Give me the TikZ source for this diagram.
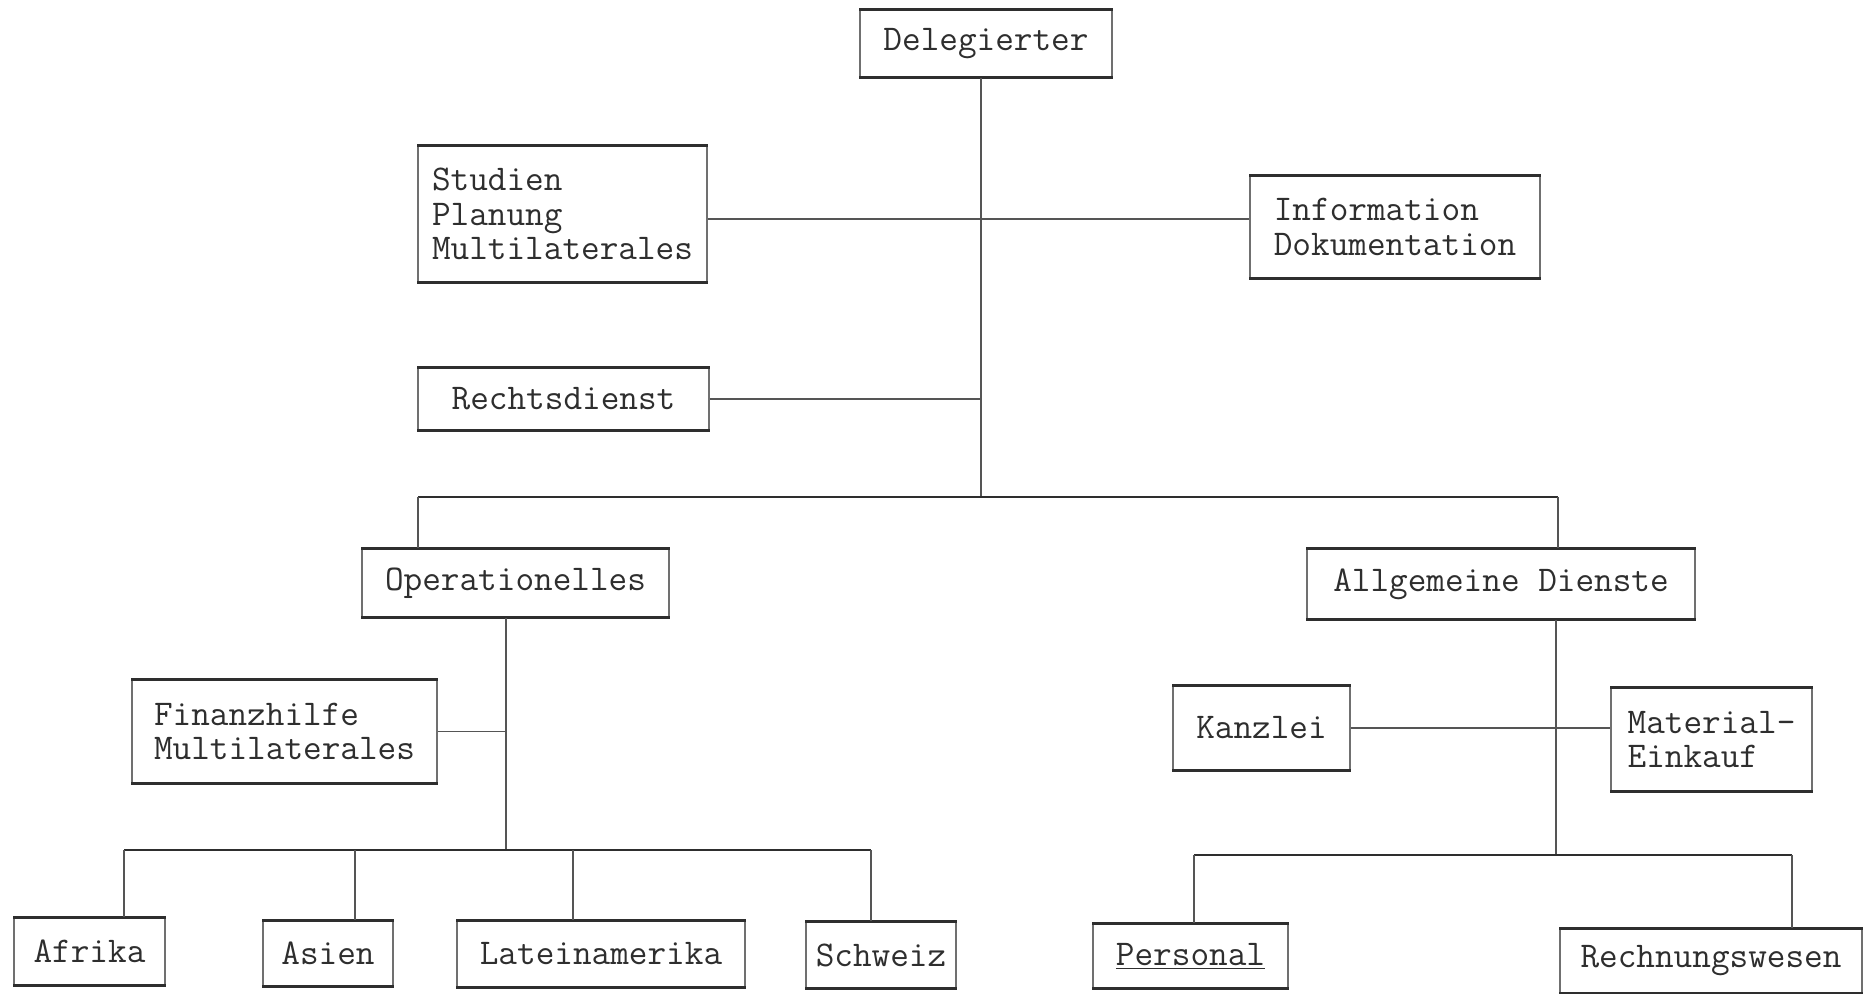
\documentclass[tikz,border=0pt]{standalone}
\definecolor{ink}{HTML}{2E2E2E}
\definecolor{boxside}{HTML}{707070}
\definecolor{linec}{HTML}{555555}
\newcommand\twfont{\ttfamily\fontsize{20.6}{19.5}\selectfont}
\begin{document}
\begin{tikzpicture}[x=0.02cm,y=-0.02cm,
  box/.style 2 args={draw=boxside, line width=0.6pt, minimum width=#1*0.02cm, minimum height=#2*0.02cm, inner sep=0pt, align=left, font=\twfont, text=ink},
  heavy/.style={draw=ink, line width=1.6pt},
  conn/.style={draw=linec, line width=0.8pt},
  hbar/.style={draw=ink, line width=1.4pt}]
\useasboundingbox (0,0) rectangle (1863,994);
\fill[white] (0,0) rectangle (1863,994);

\node[box={252}{67}] (del) at (986,43.5) {Delegierter};
\node[box={289}{136}] (stu) at (562.5,214) {Studien\\Planung\\Multilaterales};
\node[box={290}{102}] (info) at (1395,227) {Information\\Dokumentation};
\node[box={291}{62}] (recht) at (563.5,399) {Rechtsdienst};
\node[box={307}{68}] (oper) at (515.5,583) {Operationelles};
\node[box={388}{70}] (allg) at (1501,584) {Allgemeine Dienste};
\node[box={305}{103}] (fin) at (284.5,731.5) {Finanzhilfe\\Multilaterales};
\node[box={177}{84}] (kanz) at (1261.5,728) {Kanzlei};
\node[box={201}{103}] (mat) at (1711.5,739.5) {Material-\\Einkauf};
\node[box={151}{67}] (afr) at (89.5,951.5) {Afrika};
\node[box={130}{65}] (asi) at (328,953.5) {Asien};
\node[box={288}{66}] (lat) at (601,954) {Lateinamerika};
\node[box={150}{66}] (sch) at (881,955) {Schweiz};
\node[box={195}{64}] (pers) at (1190.5,956) {\underline{Personal}};
\node[box={302}{64}] (rech) at (1711,961) {Rechnungswesen};

\foreach \n in {del,stu,info,recht,oper,allg,fin,kanz,mat,afr,asi,lat,sch,pers,rech}{
  \draw[heavy] (\n.north west) -- (\n.north east);
  \draw[heavy] (\n.south west) -- (\n.south east);
}

\coordinate (trunk) at (981,497);
\coordinate (si) at (981,219);
\coordinate (barL) at (418,497);
\coordinate (barR) at (1558,497);
\coordinate (opj) at (506,850);
\coordinate (d1) at (124,850);
\coordinate (d2) at (355,850);
\coordinate (d3) at (573,850);
\coordinate (d4) at (871,850);
\coordinate (agj) at (1556,855);
\coordinate (e1) at (1194,855);
\coordinate (e2) at (1792,855);

\draw[conn] (del.south -| trunk) -- (trunk);
\draw[conn] (stu.east |- si) -- (info.west |- si);
\draw[conn] (recht.east) -- (recht.east -| trunk);
\draw[hbar] (barL) -- (barR);
\draw[conn] (barL) -- (barL |- oper.north);
\draw[conn] (barR) -- (barR |- allg.north);

\draw[conn] (oper.south -| opj) -- (opj);
\draw[conn] (fin.east) -- (fin.east -| opj);
\draw[hbar] (d1) -- (d4);
\draw[conn] (d1) -- (d1 |- afr.north);
\draw[conn] (d2) -- (d2 |- asi.north);
\draw[conn] (d3) -- (d3 |- lat.north);
\draw[conn] (d4) -- (d4 |- sch.north);

\draw[conn] (allg.south -| agj) -- (agj);
\draw[conn] (kanz.east) -- (kanz.east -| mat.west);
\draw[hbar] (e1) -- (e2);
\draw[conn] (e1) -- (e1 |- pers.north);
\draw[conn] (e2) -- (e2 |- rech.north);
\end{tikzpicture}
\end{document}
